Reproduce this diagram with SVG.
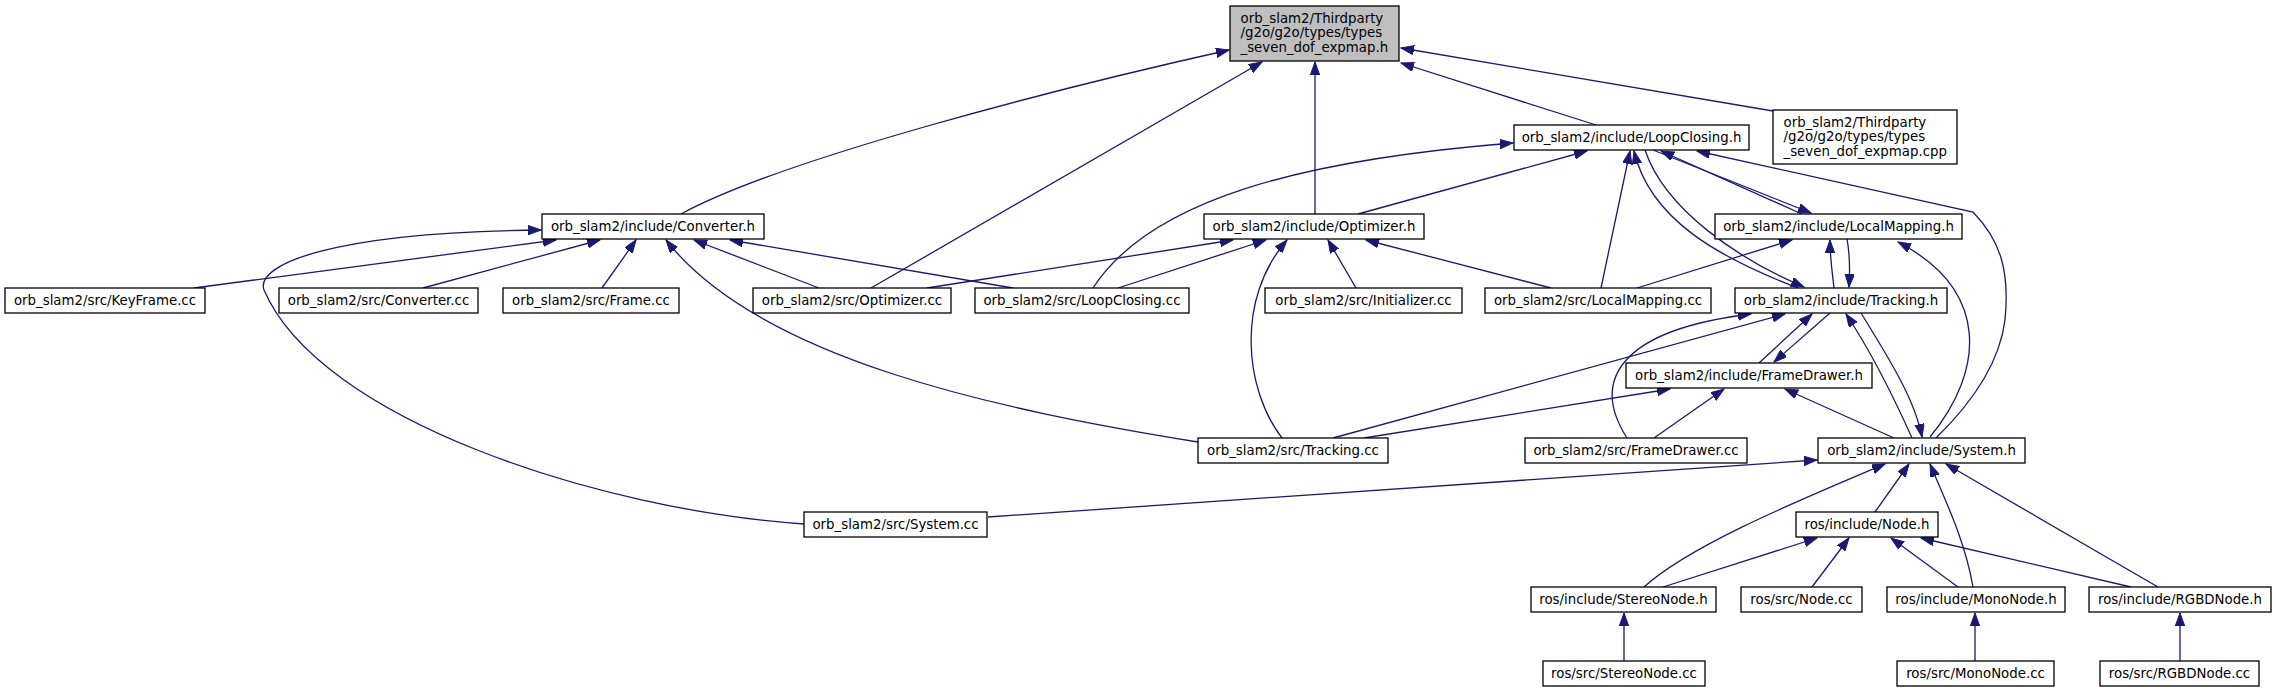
<svg xmlns="http://www.w3.org/2000/svg" width="2276" height="693" viewBox="0 0 2276 693">
<style>
.n rect{fill:#fff;stroke:#000;stroke-width:1.3}
.n.root rect{fill:#bfbfbf}
.n text{font-family:"DejaVu Sans","Liberation Sans",sans-serif;font-size:13.33px;fill:#000;text-anchor:middle}
.n text.l{text-anchor:start}
#edges path{fill:none;stroke:#191970;stroke-width:1.3;marker-end:url(#ah)}
</style>
<defs>
<marker id="ah" markerWidth="14" markerHeight="10" refX="13" refY="4.7" orient="auto" markerUnits="userSpaceOnUse">
<path d="M0,0 L13,4.7 L0,9.4 z" fill="#191970" stroke="#191970" stroke-width="1"/>
</marker>
</defs>
<rect width="2276" height="693" fill="#fff"/>
<g id="edges">
<path d="M681,214 C780,160 1050,90 1229,50"/>
<path d="M871,288 L1262,62"/>
<path d="M1315,214 L1315,62"/>
<path d="M1596,125 L1401,63"/>
<path d="M1773,111 L1401,48"/>
<path d="M1093,288 C1150,200 1300,160 1513,143"/>
<path d="M1358,214 L1587,151"/>
<path d="M1601,288 L1630,151"/>
<path d="M1798,288 C1720,258 1650,220 1634,151"/>
<path d="M1645,150 C1665,210 1740,260 1804,287"/>
<path d="M1802,214 L1661,151"/>
<path d="M1653,150 L1811,213"/>
<path d="M1936,438 C1975,400 2000,360 2005,320 C2010,270 2000,240 1973,212 L1697,151"/>
<path d="M1834,288 C1832,270 1830,258 1830,240"/>
<path d="M1847,239 C1850,255 1850,270 1849,287"/>
<path d="M1637,288 L1792,240"/>
<path d="M1930,437 C1985,370 1990,290 1898,242"/>
<path d="M1627,438 C1590,380 1620,330 1751,314"/>
<path d="M1333,438 L1785,314"/>
<path d="M1759,363 L1812,314"/>
<path d="M1830,313 L1774,362"/>
<path d="M1912,438 C1895,400 1870,350 1846,314"/>
<path d="M1861,313 C1890,360 1915,400 1922,437"/>
<path d="M1364,438 L1670,389"/>
<path d="M1654,438 L1724,389"/>
<path d="M1894,438 L1785,389"/>
<path d="M988,517 L1817,460"/>
<path d="M1644,587 C1690,545 1800,500 1885,464"/>
<path d="M1875,512 L1909,464"/>
<path d="M1973,587 C1965,540 1945,500 1930,464"/>
<path d="M2158,587 L1946,464"/>
<path d="M1663,587 L1817,538"/>
<path d="M1812,587 L1849,538"/>
<path d="M1958,587 L1891,538"/>
<path d="M2131,587 L1921,538"/>
<path d="M1624,661 L1624,613"/>
<path d="M1975,661 L1975,613"/>
<path d="M2180,661 L2180,613"/>
<path d="M804,524 C600,510 320,420 264,290 C255,265 330,232 541,230"/>
<path d="M194,288 L556,240"/>
<path d="M423,288 L600,240"/>
<path d="M602,288 L636,240"/>
<path d="M1198,442 C1000,410 760,360 666,240"/>
<path d="M819,288 L694,240"/>
<path d="M1013,288 L730,240"/>
<path d="M927,288 L1233,240"/>
<path d="M1118,288 L1266,240"/>
<path d="M1282,438 C1245,390 1235,300 1287,240"/>
<path d="M1356,288 L1328,240"/>
<path d="M1551,288 L1366,240"/>
</g>
<g id="n0" class="n root"><rect x="1230" y="6" width="169" height="55"/><text class="l" x="1240.5" y="22.5">orb_slam2/Thirdparty</text><text class="l" x="1240.5" y="37">/g2o/g2o/types/types</text><text class="l" x="1240.5" y="51.5">_seven_dof_expmap.h</text></g>
<g id="n1" class="n"><rect x="1773" y="110" width="184" height="54"/><text class="l" x="1783.5" y="126.5">orb_slam2/Thirdparty</text><text class="l" x="1783.5" y="141">/g2o/g2o/types/types</text><text class="l" x="1783.5" y="155.5">_seven_dof_expmap.cpp</text></g>
<g id="n2" class="n"><rect x="1514" y="125" width="235" height="25"/><text x="1631.5" y="142">orb_slam2/include/LoopClosing.h</text></g>
<g id="n3" class="n"><rect x="542" y="214" width="222" height="25"/><text x="653" y="231">orb_slam2/include/Converter.h</text></g>
<g id="n4" class="n"><rect x="1204" y="214" width="220" height="25"/><text x="1314" y="231">orb_slam2/include/Optimizer.h</text></g>
<g id="n5" class="n"><rect x="1715" y="214" width="247" height="25"/><text x="1838.5" y="231">orb_slam2/include/LocalMapping.h</text></g>
<g id="n6" class="n"><rect x="5" y="288" width="200" height="25"/><text x="105" y="305">orb_slam2/src/KeyFrame.cc</text></g>
<g id="n7" class="n"><rect x="279" y="288" width="199" height="25"/><text x="378.5" y="305">orb_slam2/src/Converter.cc</text></g>
<g id="n8" class="n"><rect x="503" y="288" width="176" height="25"/><text x="591" y="305">orb_slam2/src/Frame.cc</text></g>
<g id="n9" class="n"><rect x="753" y="288" width="198" height="25"/><text x="852" y="305">orb_slam2/src/Optimizer.cc</text></g>
<g id="n10" class="n"><rect x="975" y="288" width="214" height="25"/><text x="1082" y="305">orb_slam2/src/LoopClosing.cc</text></g>
<g id="n11" class="n"><rect x="1265" y="288" width="197" height="25"/><text x="1363.5" y="305">orb_slam2/src/Initializer.cc</text></g>
<g id="n12" class="n"><rect x="1485" y="288" width="226" height="25"/><text x="1598" y="305">orb_slam2/src/LocalMapping.cc</text></g>
<g id="n13" class="n"><rect x="1735" y="288" width="212" height="25"/><text x="1841" y="305">orb_slam2/include/Tracking.h</text></g>
<g id="n14" class="n"><rect x="1626" y="363" width="246" height="25"/><text x="1749" y="380">orb_slam2/include/FrameDrawer.h</text></g>
<g id="n15" class="n"><rect x="1198" y="438" width="190" height="25"/><text x="1293" y="455">orb_slam2/src/Tracking.cc</text></g>
<g id="n16" class="n"><rect x="1525" y="438" width="222" height="25"/><text x="1636" y="455">orb_slam2/src/FrameDrawer.cc</text></g>
<g id="n17" class="n"><rect x="1818" y="438" width="207" height="25"/><text x="1921.5" y="455">orb_slam2/include/System.h</text></g>
<g id="n18" class="n"><rect x="804" y="512" width="183" height="25"/><text x="895.5" y="529">orb_slam2/src/System.cc</text></g>
<g id="n19" class="n"><rect x="1796" y="512" width="142" height="25"/><text x="1867" y="529">ros/include/Node.h</text></g>
<g id="n20" class="n"><rect x="1531" y="587" width="185" height="25"/><text x="1623.5" y="604">ros/include/StereoNode.h</text></g>
<g id="n21" class="n"><rect x="1741" y="587" width="121" height="25"/><text x="1801.5" y="604">ros/src/Node.cc</text></g>
<g id="n22" class="n"><rect x="1887" y="587" width="178" height="25"/><text x="1976" y="604">ros/include/MonoNode.h</text></g>
<g id="n23" class="n"><rect x="2089" y="587" width="182" height="25"/><text x="2180" y="604">ros/include/RGBDNode.h</text></g>
<g id="n24" class="n"><rect x="1543" y="661" width="162" height="25"/><text x="1624" y="678">ros/src/StereoNode.cc</text></g>
<g id="n25" class="n"><rect x="1897" y="661" width="157" height="25"/><text x="1975.5" y="678">ros/src/MonoNode.cc</text></g>
<g id="n26" class="n"><rect x="2100" y="661" width="159" height="25"/><text x="2179.5" y="678">ros/src/RGBDNode.cc</text></g>
</svg>
